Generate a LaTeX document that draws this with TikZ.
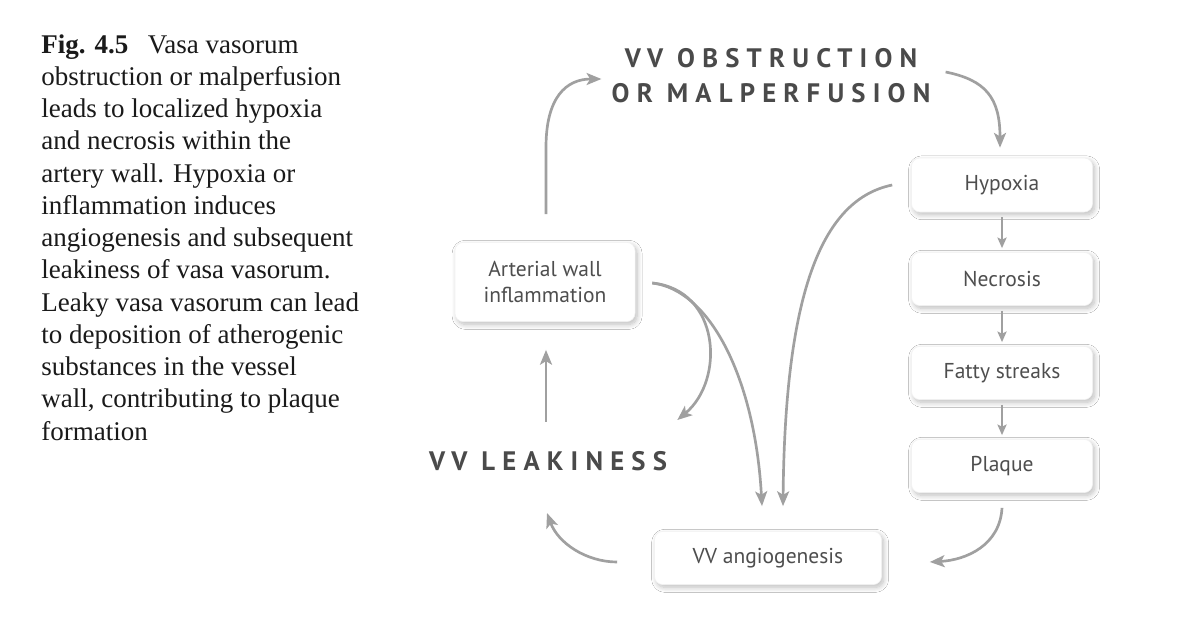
\documentclass[tikz,border=0pt]{standalone}
\usepackage{fontspec}
\setmainfont{Liberation Serif}
\newfontfamily\diagfont{PT Sans}
\newfontfamily\headfont[LetterSpace=27]{PT Sans}
\usetikzlibrary{arrows.meta,shadows.blur,calc}
\definecolor{arrgray}{HTML}{A0A0A0}
\definecolor{boxtext}{HTML}{4E4E4E}
\definecolor{headtext}{HTML}{4A4A4A}
\definecolor{captext}{HTML}{1A1A1A}
\tikzset{
  captxt/.style={inner sep=0pt, text=captext, font=\fontsize{19.2}{22.9}\selectfont},
  flowbox/.style={draw=black!5, line width=0.4pt, fill=white, rounded corners=6pt,
    inner sep=0pt, text=boxtext, align=center,
    font=\diagfont\fontsize{15.3}{19}\selectfont,
    blur shadow={shadow xshift=1.5pt, shadow yshift=-2pt, shadow blur radius=3.5pt,
      shadow blur steps=10, shadow opacity=26}},
  headtxt/.style={inner sep=0pt, text=headtext, align=center,
    font=\headfont\bfseries\fontsize{19}{25}\selectfont},
  arr/.style={draw=arrgray, line width=1.9pt,
    -{Stealth[length=10.5pt, width=8.5pt, inset=2.5pt]}},
  sarr/.style={draw=arrgray, line width=1.4pt,
    -{Stealth[length=7.5pt, width=6.5pt, inset=1.5pt]}}
}
\begin{document}
\begin{tikzpicture}[x=0.025cm, y=-0.025cm]
\useasboundingbox[fill=white] (0,0) rectangle (1200,631);

% caption
\foreach \t [count=\i] in {
  {\textbf{Fig. 4.5}\hspace{14pt}Vasa vasorum},
  {obstruction or malperfusion},
  {leads to localized hypoxia},
  {and necrosis within the},
  {artery wall. Hypoxia or},
  {inflammation induces},
  {angiogenesis and subsequent},
  {leakiness of vasa vasorum.},
  {Leaky vasa vasorum can lead},
  {to deposition of atherogenic},
  {substances in the vessel},
  {wall, contributing to plaque},
  {formation}}
  \node[captxt, anchor=base west] (cap\i) at (41,{53+(\i-1)*32.25}) {\t};

% headings
\node[headtxt] (obs) at (771,76) {VV OBSTRUCTION\\OR MALPERFUSION};
\node[headtxt] (leak) at (548,461) {VV LEAKINESS};

% boxes
\node[flowbox, minimum width=4.525cm, minimum height=1.35cm] (hyp) at (1002,185) {Hypoxia};
\node[flowbox, minimum width=4.525cm, minimum height=1.33cm] (nec) at (1002,279) {Necrosis};
\node[flowbox, minimum width=4.525cm, minimum height=1.33cm] (fat) at (1002,373) {Fatty streaks};
\node[flowbox, minimum width=4.525cm, minimum height=1.33cm] (pla) at (1002,466) {Plaque};
\node[flowbox, minimum width=4.5cm, minimum height=1.98cm] (art) at (545,282) {Arterial wall\\inflammation};
\node[flowbox, minimum width=5.675cm, minimum height=1.33cm] (ang) at (768,558) {VV angiogenesis};

% connectors
\draw[arr] ($(art.north)+(1,-28)$) -- ($(art.north)+(1,-95)$)
  .. controls ($(art.north)+(1,-145)$) and ($(obs.west)+(-45,3)$) .. ($(obs.west)+(-10,3)$);
\draw[arr] ($(obs.east)+(15,-4)$) .. controls ($(obs.east)+(55,4)$) and ($(hyp.north)+(-2,-60)$) .. ($(hyp.north)+(-2,-10)$);
\draw[sarr] ($(hyp.south)+(0,5)$) -- ($(nec.north)+(0,-4)$);
\draw[sarr] ($(nec.south)+(0,5)$) -- ($(fat.north)+(0,-4)$);
\draw[sarr] ($(fat.south)+(0,5)$) -- ($(pla.north)+(0,-4)$);
\draw[arr] ($(pla.south)+(0,15)$) .. controls ($(pla.south)+(-2,52)$) and ($(ang.east)+(85,2)$) .. ($(ang.east)+(48,4)$);
\draw[arr] ($(ang.west)+(-37,4)$) .. controls ($(ang.west)+(-68,4)$) and ($(leak.south)+(10,72)$) .. ($(leak.south)+(-1,42)$);
\draw[arr] ($(art.south)+(1,100)$) -- ($(art.south)+(1,28)$);
\draw[arr] ($(art.east)+(17,1)$) .. controls ($(art.east)+(85,8)$) and ($(art.east)+(90,98)$) .. ($(art.east)+(42,138)$);
\draw[arr] ($(art.east)+(17,1)$) .. controls ($(art.east)+(75,8)$) and ($(ang.north)+(-13,-152)$) .. ($(ang.north)+(-6,-25)$);
\draw[arr] ($(hyp.west)+(-19,0)$) .. controls ($(hyp.west)+(-92,15)$) and ($(ang.north)+(17,-232)$) .. ($(ang.north)+(15,-25)$);
\end{tikzpicture}
\end{document}
